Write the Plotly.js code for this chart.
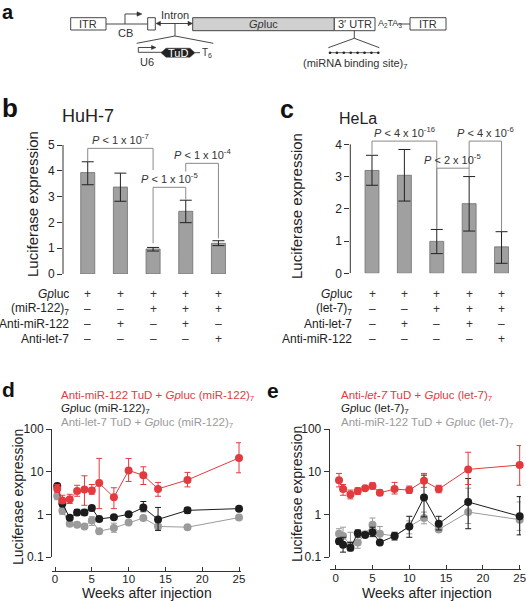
<!DOCTYPE html>
<html><head><meta charset="utf-8">
<script src="https://cdn.plot.ly/plotly-3.0.1.min.js"></script>
<style>html,body{margin:0;padding:0;background:#fff}#plot{width:526px;height:601px}</style>
</head><body><div id="plot"></div>
<script>
// ---------- data ----------
const barCategories = [1, 2, 3, 4, 5];
const huh7Values = [3.93, 3.37, 0.97, 2.43, 1.19];
const huh7ErrPlus = [0.42, 0.54, 0.06, 0.43, 0.10];
const huh7ErrMinus = [0.47, 0.55, 0.08, 0.44, 0.09];
const helaValues = [3.19, 3.04, 0.99, 2.16, 0.82];
const helaErrPlus = [0.47, 0.80, 0.37, 0.84, 0.47];
const helaErrMinus = [0.46, 0.80, 0.38, 0.85, 0.51];

const huh7RowLabels = ['<i>Gp</i>luc', '(miR-122)<sub>7</sub>', 'Anti-miR-122', 'Anti-let-7'];
const helaRowLabels = ['<i>Gp</i>luc', '(let-7)<sub>7</sub>', 'Anti-let-7', 'Anti-miR-122'];
const huh7Signs = [['+','+','+','+','+'], ['–','–','+','+','+'], ['–','+','–','+','–'], ['–','–','–','–','+']];
const helaSigns = [['+','+','+','+','+'], ['–','–','+','+','+'], ['–','+','–','+','–'], ['–','–','–','–','+']];

// brackets: [from, to, top, leftEnd, rightEnd, label]
const huh7Brackets = [
  [1, 3, 4.87, 4.38, 4.03, '<i>P</i> &lt; 1 x 10<sup>-7</sup>'],
  [3, 4, 3.36, 1.19, 2.88, '<i>P</i> &lt; 1 x 10<sup>-5</sup>'],
  [4, 5, 4.29, 3.97, 1.38, '<i>P</i> &lt; 1 x 10<sup>-4</sup>']
];
const helaBrackets = [
  [1, 3, 4.10, 3.68, 1.38, '<i>P</i> &lt; 4 x 10<sup>-16</sup>'],
  [3, 4, 3.26, 1.38, 3.02, '<i>P</i> &lt; 2 x 10<sup>-5</sup>'],
  [4, 5, 4.10, 3.26, 1.31, '<i>P</i> &lt; 4 x 10<sup>-6</sup>']
];

const weeksD = [0.3, 1, 2, 3, 4, 5, 6, 8, 10, 12, 14, 18, 25];
const dRed = [4.0, 2.1, 2.25, 3.5, 3.8, 3.6, 5.4, 2.5, 10.7, 8.2, 3.95, 6.4, 21];
const dRedHi = [5.0, 2.8, 2.95, 4.8, 8.0, 5.0, 20.5, 4.2, 20.4, 13, 5.6, 9.6, 47.6];
const dRedLo = [3.3, 1.8, 1.8, 2.65, 1.63, 2.95, 1.36, 1.36, 5.9, 5.0, 2.65, 4.4, 9.4];
const dBlack = [4.6, 1.8, 0.83, 1.1, 1.1, 1.4, 0.78, 0.86, 1.0, 1.44, 0.76, 1.24, 1.36];
const dBlackHi = [5.3, 2.1, 0.9, 1.3, 1.3, 1.6, 0.9, 0.9, 1.05, 2.0, 1.45, 1.45, 1.42];
const dBlackLo = [4.0, 1.5, 0.76, 0.95, 0.95, 1.2, 0.68, 0.82, 0.95, 1.15, 0.42, 1.05, 1.3];
const dGrey = [2.7, 1.22, 0.6, 0.57, 0.52, 0.72, 0.4, 0.48, 0.64, 0.82, 0.52, 0.5, 0.84];
const dGreyHi = [3.2, 1.6, 0.7, 0.65, 0.56, 0.88, 0.45, 0.62, 0.68, 0.87, 0.65, 0.54, 0.88];
const dGreyLo = [2.2, 1.0, 0.52, 0.5, 0.48, 0.55, 0.35, 0.38, 0.6, 0.77, 0.42, 0.46, 0.8];

const weeksE = [0.45, 1, 2, 3, 4, 5, 6, 8, 10, 12, 14, 18, 25];
const eRed = [6.3, 3.9, 2.9, 3.5, 4.1, 4.6, 3.2, 3.9, 3.7, 6.1, 3.9, 11.3, 14.3];
const eRedHi = [9.1, 5.0, 3.7, 4.2, 4.4, 5.5, 3.7, 5.6, 4.6, 9.1, 4.8, 28.5, 41];
const eRedLo = [4.4, 2.8, 2.3, 2.9, 3.8, 3.9, 2.8, 3.0, 3.1, 4.3, 3.2, 5.0, 4.8];
const eBlack = [0.235, 0.195, 0.165, 0.36, 0.33, 0.38, 0.22, 0.31, 0.52, 2.47, 0.6, 1.95, 0.9];
const eBlackHi = [0.27, 0.29, 0.22, 0.43, 0.36, 0.5, 0.24, 0.38, 0.9, 8.3, 0.9, 6.9, 2.6];
const eBlackLo = [0.2, 0.13, 0.14, 0.29, 0.3, 0.3, 0.2, 0.25, 0.29, 0.87, 0.43, 0.46, 0.33];
const eGrey = [0.35, 0.31, 0.19, 0.22, 0.34, 0.57, 0.35, 0.31, 0.52, 0.82, 0.44, 1.13, 0.75];
const eGreyHi = [0.46, 0.5, 0.38, 0.3, 0.4, 0.82, 0.52, 0.36, 0.7, 1.13, 0.47, 4.1, 1.95];
const eGreyLo = [0.27, 0.22, 0.14, 0.16, 0.3, 0.43, 0.25, 0.26, 0.35, 0.6, 0.41, 0.61, 0.42];

const dLegend = ['Anti-miR-122 TuD + <i>Gp</i>luc (miR-122)<sub>7</sub>', '<i>Gp</i>luc (miR-122)<sub>7</sub>', 'Anti-let-7 TuD + <i>Gp</i>luc (miR-122)<sub>7</sub>'];
const eLegend = ['Anti-<i>let-7</i> TuD + <i>Gp</i>luc (let-7)<sub>7</sub>', '<i>Gp</i>luc (let-7)<sub>7</sub>', 'Anti-miR-122 TuD + <i>Gp</i>luc (let-7)<sub>7</sub>'];
const weekTicks = [0, 5, 10, 15, 20, 25];
const logTicks = [0.1, 1, 10, 100];
const logTickText = ['0.1', '1', '10', '100'];

// ---------- helpers ----------
const W = 526, H = 601;
const px = x => x / W;
const py = y => 1 - y / H;
const FONT = 'Liberation Sans, Arial, Helvetica, sans-serif';
const RED = '#e23b3f', BLACK = '#1c1c1c', GREY = '#9b9b9b';
const annotations = [];
const shapes = [];
// ann: x, y in pixels from top-left of the figure
function ann(text, x, y, o) {
  annotations.push(Object.assign({text, x: px(x), y: py(y), xref: 'paper', yref: 'paper', showarrow: false,
    xanchor: 'center', yanchor: 'middle', font: {family: FONT, size: 12, color: '#222'}}, o || {}));
}
function pline(x0, y0, x1, y1, o) {
  shapes.push(Object.assign({type: 'line', xref: 'paper', yref: 'paper', x0: px(x0), y0: py(y0), x1: px(x1), y1: py(y1),
    line: {color: '#333', width: 0.9}}, o || {}));
}
function prect(x0, y0, x1, y1, fill) {
  shapes.push({type: 'rect', xref: 'paper', yref: 'paper', x0: px(x0), y0: py(y0), x1: px(x1), y1: py(y1),
    line: {color: '#333', width: 0.9}, fillcolor: fill || '#fff'});
}
function ppath(pts, fill, closed) {
  const d = pts.map((p, i) => (i ? 'L' : 'M') + px(p[0]).toFixed(5) + ',' + py(p[1]).toFixed(5)).join(' ') + (closed ? ' Z' : '');
  shapes.push({type: 'path', xref: 'paper', yref: 'paper', path: d,
    line: {color: '#333', width: closed ? 0.5 : 0.9}, fillcolor: fill || 'rgba(0,0,0,0)'});
}
function diff(a, b) { return a.map((v, i) => Math.abs(v - b[i])); }

// ---------- panel a (schematic) ----------
const dfont = {family: FONT, size: 11, color: '#333'};
prect(70.7, 17.7, 106, 30);
ann('ITR', 88.3, 24, {font: dfont});
pline(106, 24, 147.7, 24);
ppath([[125, 24], [125, 14], [138, 14]]);
ppath([[137, 11.8], [142, 14], [137, 16.2]], '#333', true);
ann('CB', 125.7, 33.5, {font: dfont});
prect(147.7, 17.7, 155.3, 30);
pline(158, 23.5, 190, 23.5);
ppath([[156, 23.5], [160.5, 21.3], [160.5, 25.7]], '#333', true);
ppath([[192.5, 23.5], [188, 21.3], [188, 25.7]], '#333', true);
ann('Intron', 175, 15.3, {font: dfont});
prect(192.7, 17.7, 334.3, 30.7, '#d0d0d0');
ann('<i>Gp</i>luc', 263, 24.2, {font: dfont});
prect(334.3, 17.7, 375, 30.7);
ann('3′ UTR', 354.7, 24.2, {font: dfont});
ann('A<sub>2</sub>TA<sub>3</sub>', 376, 23.5, {xanchor: 'left', font: {family: FONT, size: 9, color: '#333'}});
pline(398, 24, 410, 24);
prect(410, 17.7, 446, 30);
ann('ITR', 428, 24, {font: dfont});
pline(175, 23.5, 175, 36);
pline(175, 36, 136.7, 43.3);
pline(175, 36, 213.3, 43.3);
ppath([[138.3, 52.3], [138.3, 47.5], [152, 47.5]]);
ppath([[151.5, 45.5], [156, 47.5], [151.5, 49.5]], '#333', true);
pline(138.3, 52.3, 162, 52.3);
ppath([[161, 52.7], [166, 48.2], [190, 48.2], [195, 52.7], [190, 57.2], [166, 57.2]], '#222', true);
ann('TuD', 178, 52.7, {font: {family: FONT, size: 11, color: '#fff'}});
pline(195, 52.7, 200, 52.7);
ann('T<sub>6</sub>', 200, 52.5, {xanchor: 'left', font: {family: FONT, size: 10, color: '#333'}});
ann('U6', 146.7, 61.5, {font: dfont});
pline(354.3, 30.7, 354.3, 38.3);
pline(354.3, 38.3, 328.3, 47.7);
pline(354.3, 38.3, 379.3, 47.7);
pline(329, 52.7, 379, 52.7, {line: {color: '#333', width: 0.8}});
for (let i = 0; i < 8; i++) {
  const cx = 330 + i * 6.9;
  shapes.push({type: 'circle', xref: 'paper', yref: 'paper', x0: px(cx - 1.3), x1: px(cx + 1.3), y0: py(52.7 - 1.3), y1: py(52.7 + 1.3),
    fillcolor: '#222', line: {width: 0}});
}
ann('(miRNA binding site)<sub>7</sub>', 355, 63.5, {font: dfont});

// ---------- panel letters / titles ----------
const letterFont = s => ({family: FONT, size: s, color: '#111', weight: 'bold'});
ann('<b>a</b>', 1, 0, {xanchor: 'left', yanchor: 'top', borderpad: 0, font: letterFont(20)});
ann('<b>b</b>', 0, 108, {xanchor: 'left', font: letterFont(26)});
ann('<b>c</b>', 278, 109, {xanchor: 'left', font: letterFont(25)});
ann('<b>d</b>', 0, 389, {xanchor: 'left', font: letterFont(21)});
ann('<b>e</b>', 265, 390, {xanchor: 'left', font: letterFont(21)});
ann('HuH-7', 60, 115.5, {xanchor: 'left', font: {family: FONT, size: 18, color: '#222'}});
ann('HeLa', 337, 118.5, {xanchor: 'left', font: {family: FONT, size: 16, color: '#222'}});

const titleFont = s => ({family: FONT, size: s, color: '#222'});
ann('Luciferase expression', 33, 204, {textangle: -90, font: titleFont(15)});
ann('Luciferase expression', 297, 206, {textangle: -90, font: titleFont(15)});
ann('Luciferase expression', 18, 497, {textangle: -90, font: titleFont(14)});
ann('Luciferase expression', 297, 494, {textangle: -90, font: titleFont(14)});
ann('Weeks after injection', 147, 593, {font: titleFont(14)});
ann('Weeks after injection', 427, 593, {font: titleFont(14)});

// legends (d, e)
const legColors = [RED, BLACK, GREY];
const legY = [395.5, 409.5, 423];
dLegend.forEach((t, i) => ann(t, 59, legY[i], {xanchor: 'left', font: {family: FONT, size: 11.5, color: legColors[i]}}));
eLegend.forEach((t, i) => ann(t, 339, legY[i], {xanchor: 'left', font: {family: FONT, size: 11.5, color: legColors[i]}}));

// tables
const rowY = [294.3, 309.3, 323.8, 339];
function table(labels, signs, labelRight, xref) {
  labels.forEach((l, r) => {
    ann(l, labelRight, rowY[r], {xanchor: 'right', font: {family: FONT, size: 12, color: '#222'}});
    signs[r].forEach((s, c) => {
      annotations.push({text: s, x: barCategories[c], y: py(rowY[r]), xref: xref, yref: 'paper', showarrow: false,
        xanchor: 'center', yanchor: 'middle', font: {family: FONT, size: 12, color: '#333'}});
    });
  });
}
table(huh7RowLabels, huh7Signs, 71, 'x');
table(helaRowLabels, helaSigns, 354, 'x2');

// brackets
function brackets(list, xr, yr) {
  list.forEach(b => {
    const [a, c, top, le, re, label] = b;
    const ln = {color: '#8a8a8a', width: 1};
    shapes.push({type: 'line', xref: xr, yref: yr, x0: a, x1: c, y0: top, y1: top, line: ln});
    shapes.push({type: 'line', xref: xr, yref: yr, x0: a, x1: a, y0: top, y1: le, line: ln});
    shapes.push({type: 'line', xref: xr, yref: yr, x0: c, x1: c, y0: top, y1: re, line: ln});
    annotations.push({text: label, x: (a + c) / 2, y: top, xref: xr, yref: yr, showarrow: false,
      xanchor: 'center', yanchor: 'bottom', yshift: 0, font: {family: FONT, size: 11, color: '#333'}});
  });
}
brackets(huh7Brackets, 'x', 'y');
brackets(helaBrackets, 'x2', 'y2');

// y-axis lines for bar panels (0..max tick only)
shapes.push({type: 'line', xref: 'paper', yref: 'y', x0: px(63), x1: px(63), y0: 0, y1: 5, line: {color: '#333', width: 1}});
shapes.push({type: 'line', xref: 'paper', yref: 'y2', x0: px(350.3), x1: px(350.3), y0: 0, y1: 4, line: {color: '#333', width: 1}});

// ---------- traces ----------
const barStyle = {type: 'bar', width: 0.43, marker: {color: '#a0a0a0', line: {color: '#6e6e6e', width: 0.8}}, hoverinfo: 'none'};
const traces = [
  Object.assign({}, barStyle, {x: barCategories, y: huh7Values, xaxis: 'x', yaxis: 'y',
    error_y: {type: 'data', symmetric: false, array: huh7ErrPlus, arrayminus: huh7ErrMinus, color: '#222', thickness: 1, width: 6}}),
  Object.assign({}, barStyle, {x: barCategories, y: helaValues, xaxis: 'x2', yaxis: 'y2',
    error_y: {type: 'data', symmetric: false, array: helaErrPlus, arrayminus: helaErrMinus, color: '#222', thickness: 1, width: 6}})
];
function lineTrace(x, y, hi, lo, color, xa, ya) {
  return {type: 'scatter', mode: 'lines+markers', x, y, xaxis: xa, yaxis: ya, cliponaxis: false,
    line: {color, width: 1}, marker: {color, size: 8},
    error_y: {type: 'data', symmetric: false, array: diff(hi, y), arrayminus: diff(y, lo), color, thickness: 1, width: 3}};
}
traces.push(lineTrace(weeksD, dGrey, dGreyHi, dGreyLo, GREY, 'x3', 'y3'));
traces.push(lineTrace(weeksD, dBlack, dBlackHi, dBlackLo, BLACK, 'x3', 'y3'));
traces.push(lineTrace(weeksD, dRed, dRedHi, dRedLo, RED, 'x3', 'y3'));
traces.push(lineTrace(weeksE, eGrey, eGreyHi, eGreyLo, GREY, 'x4', 'y4'));
traces.push(lineTrace(weeksE, eBlack, eBlackHi, eBlackLo, BLACK, 'x4', 'y4'));
traces.push(lineTrace(weeksE, eRed, eRedHi, eRedLo, RED, 'x4', 'y4'));

const tickFont = {family: FONT, size: 12, color: '#222'};
const xTickFont = {family: FONT, size: 11.5, color: '#222'};
const hiddenX = {showline: false, showticklabels: false, ticks: '', showgrid: false, zeroline: false};
const layout = {
  width: W, height: H, autosize: false, margin: {l: 0, r: 0, t: 0, b: 0}, showlegend: false,
  paper_bgcolor: '#fff', plot_bgcolor: 'rgba(0,0,0,0)', font: {family: FONT},
  xaxis: Object.assign({domain: [px(63), px(240)], range: [0.243, 5.66], anchor: 'y'}, hiddenX),
  yaxis: {domain: [py(274), py(133.4)], range: [0, 5.45], anchor: 'x', showline: false, showgrid: false, zeroline: false,
    tickvals: [0, 1, 2, 3, 4, 5], ticks: 'outside', ticklen: 5, tickcolor: '#333', tickfont: tickFont},
  xaxis2: Object.assign({domain: [px(350.3), px(520)], range: [0.33, 5.57], anchor: 'y2'}, hiddenX),
  yaxis2: {domain: [py(273.3), py(128.2)], range: [0, 4.5], anchor: 'x2', showline: false, showgrid: false, zeroline: false,
    tickvals: [0, 1, 2, 3, 4], ticks: 'outside', ticklen: 5, tickcolor: '#333', tickfont: tickFont},
  xaxis3: {domain: [px(52), px(241)], range: [-0.41, 25.27], anchor: 'free', position: py(570.5), showline: true, linecolor: '#333', linewidth: 1,
    tickvals: weekTicks, ticks: 'inside', ticklen: 4, tickcolor: '#333', tickfont: xTickFont, showgrid: false, zeroline: false, ticklabeloverflow: 'allow', ticklabelstandoff: -2},
  yaxis3: {domain: [py(557), py(429)], type: 'log', range: [-1, 2], anchor: 'x3', showline: true, linecolor: '#333', linewidth: 1,
    tickvals: logTicks, ticktext: logTickText, ticks: 'outside', ticklen: 5, tickcolor: '#333', tickfont: tickFont, showgrid: false, zeroline: false},
  xaxis4: {domain: [px(329.7), px(521)], range: [-0.815, 25.18], anchor: 'free', position: py(569), showline: true, linecolor: '#333', linewidth: 1,
    tickvals: weekTicks, ticks: 'inside', ticklen: 4, tickcolor: '#333', tickfont: xTickFont, showgrid: false, zeroline: false, ticklabeloverflow: 'allow', ticklabelstandoff: -2},
  yaxis4: {domain: [py(557), py(429)], type: 'log', range: [-1, 2], anchor: 'x4', showline: true, linecolor: '#333', linewidth: 1,
    tickvals: logTicks, ticktext: logTickText, ticks: 'outside', ticklen: 5, tickcolor: '#333', tickfont: tickFont, showgrid: false, zeroline: false},
  annotations, shapes
};
Plotly.newPlot('plot', traces, layout, {staticPlot: true, displayModeBar: false});
</script></body></html>
